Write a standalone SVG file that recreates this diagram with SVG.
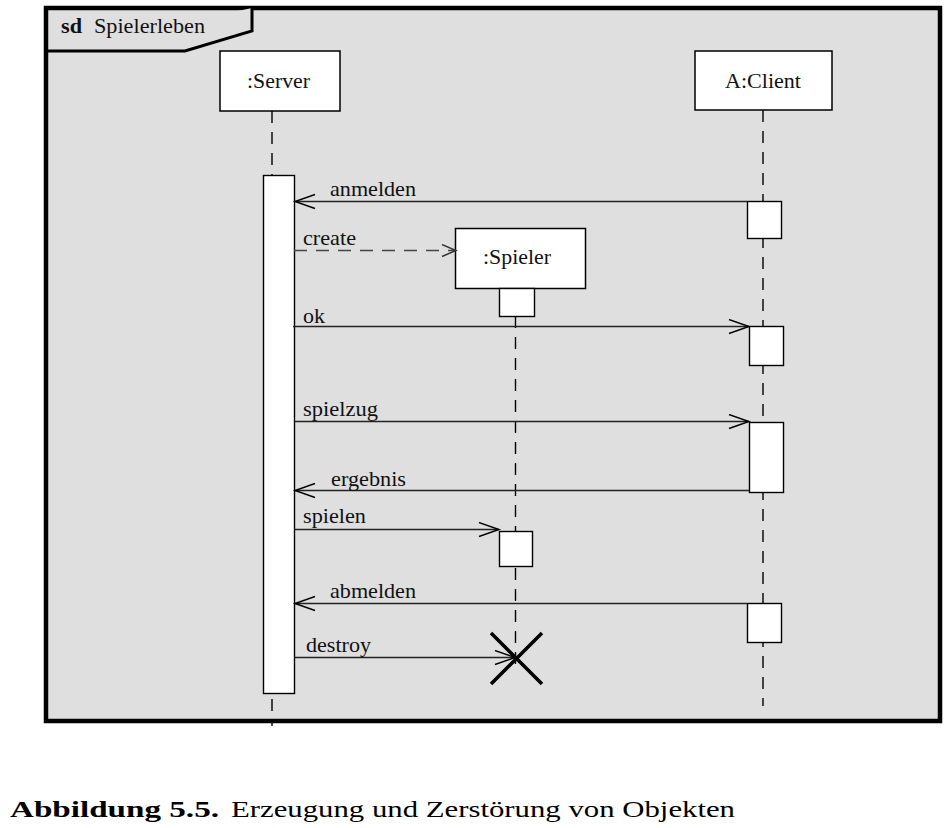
<svg xmlns="http://www.w3.org/2000/svg" width="946" height="828" viewBox="0 0 946 828">
<style>
  .lbl { font-family: "Liberation Serif", "Nimbus Roman", "Nimbus Roman No9 L", FreeSerif, "Noto Serif", "DejaVu Serif", Times, serif; font-size: 22px; fill: #111; }
  .box { fill: #fff; stroke: #000; stroke-width: 1.5; }
  .act { fill: #fff; stroke: #000; stroke-width: 1.4; }
  .life { stroke: #000; stroke-width: 1.4; stroke-dasharray: 12 9; fill: none; }
  .msg { stroke: #222; stroke-width: 1.4; fill: none; marker-end: url(#open); }
  .cap { font-family: "Liberation Serif", "Nimbus Roman", "Nimbus Roman No9 L", FreeSerif, "Noto Serif", "DejaVu Serif", Times, serif; font-size: 24px; fill: #000; }
</style>
<defs>
  <marker id="open" markerUnits="userSpaceOnUse" markerWidth="24" markerHeight="18" refX="21" refY="8" orient="auto">
    <path d="M1,1 L21,8 L1,15" fill="none" stroke="#000" stroke-width="1.4"/>
  </marker>
  <marker id="openSmall" markerUnits="userSpaceOnUse" markerWidth="18" markerHeight="16" refX="15" refY="7" orient="auto">
    <path d="M1,1 L15,7 L1,13" fill="none" stroke="#333" stroke-width="1.4"/>
  </marker>
</defs>
<rect width="946" height="828" fill="#fff"/>

<g id="frame">
  <rect x="46" y="8" width="894" height="713" fill="#dfdfdf" stroke="#000" stroke-width="4.5"/>
  <path d="M46,51 L185,51 L252,31 L252,8" fill="#dfdfdf" stroke="#000" stroke-width="3"/>
  <text x="61" y="33" class="lbl" font-weight="bold" textLength="21" lengthAdjust="spacingAndGlyphs">sd</text>
  <text x="94" y="33" class="lbl" textLength="111" lengthAdjust="spacingAndGlyphs">Spielerleben</text>
</g>

<g id="lifelines">
  <line x1="272" y1="111" x2="272" y2="726" class="life"/>
  <line x1="763" y1="110" x2="763" y2="706" class="life"/>
  <line x1="515.5" y1="316" x2="515.5" y2="670" class="life"/>
</g>

<g id="server">
  <rect x="220" y="51" width="120" height="60" class="box"/>
  <text x="247" y="88" class="lbl" textLength="63" lengthAdjust="spacingAndGlyphs">:Server</text>
  <rect x="263.5" y="175.5" width="31" height="518" class="act"/>
</g>

<g id="client">
  <rect x="695" y="51" width="137" height="59" class="box"/>
  <text x="725" y="88" class="lbl" textLength="76" lengthAdjust="spacingAndGlyphs">A:Client</text>
  <rect x="747.5" y="201.5" width="34" height="37" class="act"/>
  <rect x="749.5" y="326.5" width="34" height="39" class="act"/>
  <rect x="749.5" y="422.5" width="34" height="70" class="act"/>
  <rect x="747.5" y="603.5" width="34" height="39" class="act"/>
</g>

<g id="spieler">
  <rect x="455.5" y="228.5" width="130" height="60" class="box"/>
  <text x="483" y="264" class="lbl" textLength="68" lengthAdjust="spacingAndGlyphs">:Spieler</text>
  <rect x="499.5" y="288.5" width="35" height="28" class="act"/>
  <rect x="499.5" y="531.5" width="33" height="35" class="act"/>
  <path d="M491,633 L542,684 M542,633 L491,684" stroke="#000" stroke-width="3.5" fill="none"/>
</g>

<g id="connectors">
  <line x1="747" y1="201.5" x2="295" y2="201.5" class="msg"/>
  <line x1="294" y1="250.5" x2="456" y2="250.5" stroke="#444" stroke-width="1.6" stroke-dasharray="13 9" fill="none" marker-end="url(#openSmall)"/>
  <line x1="293" y1="326.5" x2="749" y2="326.5" class="msg"/>
  <line x1="294" y1="421.5" x2="749" y2="421.5" class="msg"/>
  <line x1="749" y1="490.5" x2="295" y2="490.5" class="msg"/>
  <line x1="294" y1="529.5" x2="499" y2="529.5" class="msg"/>
  <line x1="747" y1="603.5" x2="295" y2="603.5" class="msg"/>
  <line x1="294" y1="657.5" x2="515" y2="657.5" class="msg"/>
</g>

<g id="labels">
  <text x="330" y="196" class="lbl" textLength="86" lengthAdjust="spacingAndGlyphs">anmelden</text>
  <text x="303" y="245" class="lbl" textLength="53" lengthAdjust="spacingAndGlyphs">create</text>
  <text x="303" y="323" class="lbl" textLength="22" lengthAdjust="spacingAndGlyphs">ok</text>
  <text x="303" y="416" class="lbl" textLength="75" lengthAdjust="spacingAndGlyphs">spielzug</text>
  <text x="331" y="486" class="lbl" textLength="75" lengthAdjust="spacingAndGlyphs">ergebnis</text>
  <text x="303" y="523" class="lbl" textLength="63" lengthAdjust="spacingAndGlyphs">spielen</text>
  <text x="330" y="598" class="lbl" textLength="86" lengthAdjust="spacingAndGlyphs">abmelden</text>
  <text x="306" y="652" class="lbl" textLength="65" lengthAdjust="spacingAndGlyphs">destroy</text>
</g>

<g id="caption">
  <text x="10" y="817" class="cap" font-weight="bold" textLength="209" lengthAdjust="spacingAndGlyphs">Abbildung 5.5.</text>
  <text x="231" y="817" class="cap" textLength="504" lengthAdjust="spacingAndGlyphs">Erzeugung und Zerstörung von Objekten</text>
</g>
</svg>
